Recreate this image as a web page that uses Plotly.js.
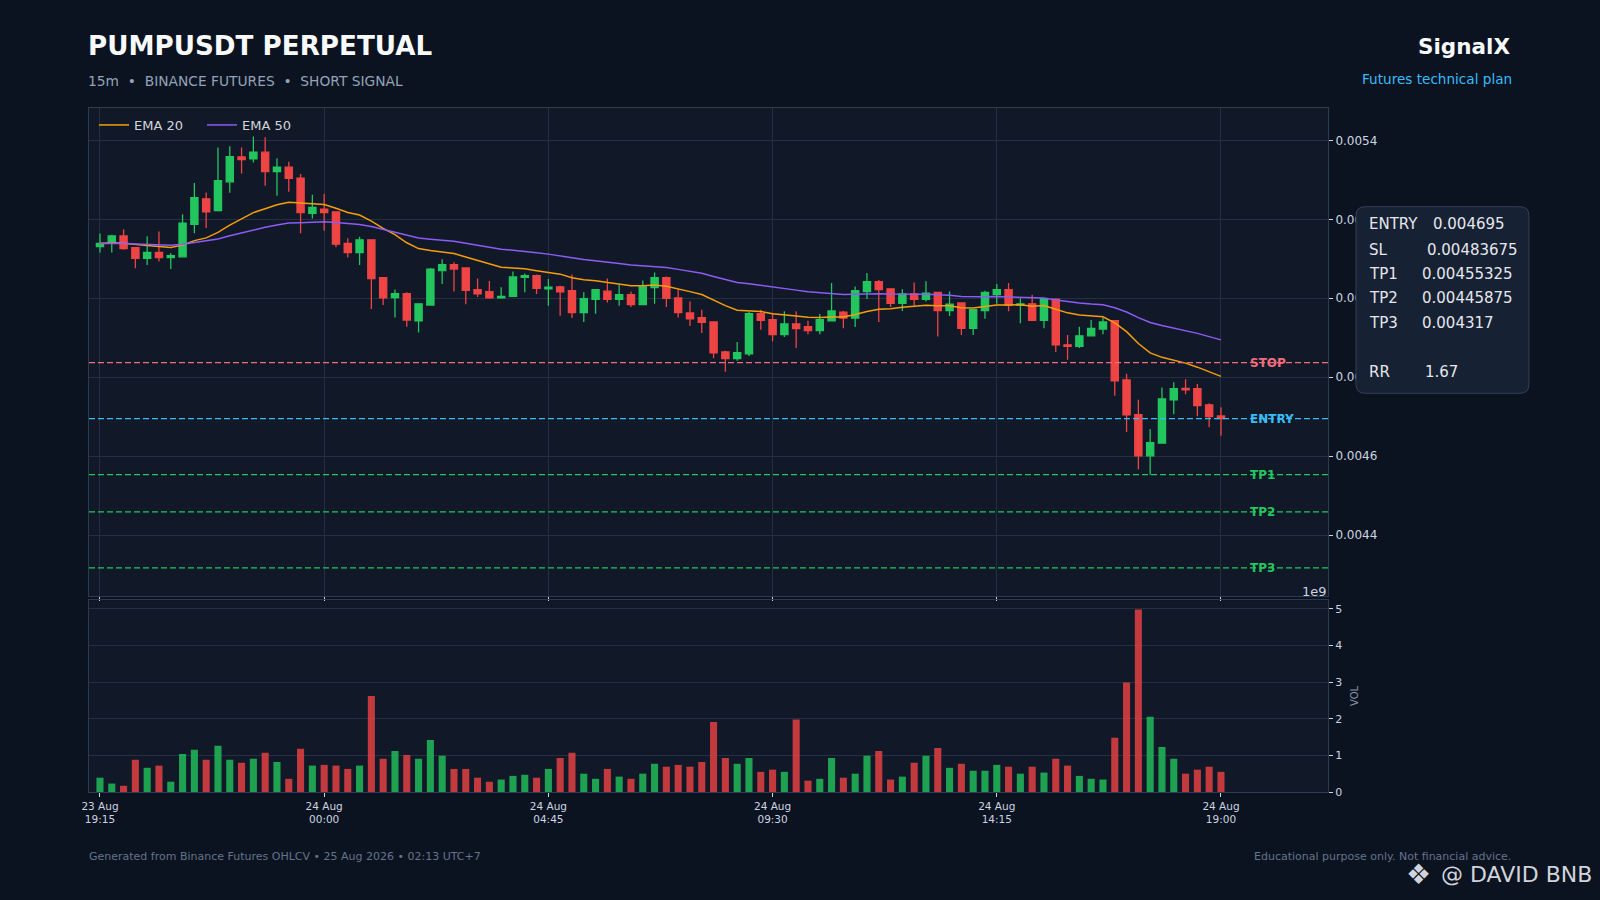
<!DOCTYPE html>
<html><head><meta charset="utf-8">
<script src="https://cdn.plot.ly/plotly-3.0.1.min.js"></script>
<style>html,body{margin:0;padding:0;background:#0b1220;}#chart{width:1600px;height:900px;}</style>
</head><body><div id="chart"></div>
<script>
// ---- data ----
const openP = [0.005131,0.005139,0.005158,0.005128,0.005101,0.005116,0.005103,0.005105,0.005187,0.005252,
0.005222,0.005295,0.005358,0.005353,0.005370,0.005321,0.005332,0.005304,0.005215,0.005226,
0.005219,0.005139,0.005116,0.005148,0.005052,0.005002,0.005012,0.004943,0.004983,0.005070,
0.005085,0.005077,0.005022,0.005017,0.005001,0.005005,0.005053,0.005057,0.005024,0.005029,
0.005019,0.004964,0.004997,0.005018,0.004997,0.005009,0.004984,0.005027,0.005052,0.005001,
0.004963,0.004951,0.004940,0.004864,0.004847,0.004859,0.004961,0.004946,0.004908,0.004935,
0.004928,0.004918,0.004943,0.004965,0.004950,0.005017,0.005042,0.005024,0.004987,0.005011,
0.004997,0.005015,0.004969,0.004988,0.004924,0.004969,0.005009,0.005022,0.004982,0.004986,
0.004944,0.004998,0.004882,0.004878,0.004905,0.004922,0.004943,0.004793,0.004705,0.004601,
0.004633,0.004743,0.004772,0.004771,0.004730,0.004702];
const highP = [0.005164,0.005161,0.005175,0.005128,0.005157,0.005169,0.005115,0.005213,0.005292,0.005268,
0.005382,0.005385,0.005382,0.005410,0.005408,0.005355,0.005346,0.005315,0.005262,0.005264,
0.005219,0.005152,0.005156,0.005148,0.005052,0.005022,0.005015,0.004986,0.005077,0.005099,
0.005091,0.005077,0.005050,0.005044,0.005028,0.005068,0.005063,0.005060,0.005049,0.005032,
0.005060,0.005015,0.005023,0.005050,0.005035,0.005017,0.005045,0.005065,0.005055,0.005022,
0.004992,0.004971,0.004940,0.004867,0.004889,0.004966,0.004971,0.004960,0.004967,0.004967,
0.004943,0.004960,0.005039,0.004968,0.005030,0.005064,0.005046,0.005024,0.005023,0.005040,
0.005043,0.005016,0.005017,0.004988,0.004973,0.005019,0.005036,0.005039,0.005000,0.005009,
0.004999,0.005000,0.004907,0.004928,0.004945,0.004950,0.004943,0.004809,0.004743,0.004669,
0.004774,0.004787,0.004795,0.004783,0.004734,0.004724];
const lowP = [0.005116,0.005116,0.005123,0.005076,0.005084,0.005093,0.005074,0.005103,0.005165,0.005178,
0.005220,0.005267,0.005316,0.005344,0.005285,0.005260,0.005270,0.005165,0.005202,0.005171,
0.005129,0.005103,0.005084,0.004973,0.004983,0.004951,0.004928,0.004913,0.004982,0.005036,
0.005017,0.004985,0.005003,0.004999,0.004999,0.005003,0.005015,0.005011,0.004981,0.004956,
0.004950,0.004940,0.004961,0.004989,0.004981,0.004978,0.004984,0.004986,0.004978,0.004951,
0.004930,0.004912,0.004848,0.004814,0.004842,0.004854,0.004920,0.004891,0.004902,0.004874,
0.004909,0.004909,0.004941,0.004924,0.004927,0.004998,0.004940,0.004978,0.004968,0.004982,
0.004992,0.004903,0.004955,0.004907,0.004907,0.004948,0.004986,0.004967,0.004937,0.004944,
0.004924,0.004864,0.004844,0.004874,0.004905,0.004909,0.004753,0.004661,0.004567,0.004553,
0.004633,0.004706,0.004757,0.004701,0.004673,0.004652];
const closeP = [0.005139,0.005158,0.005126,0.005101,0.005116,0.005103,0.005108,0.005190,0.005255,0.005219,
0.005298,0.005359,0.005351,0.005370,0.005321,0.005332,0.005304,0.005217,0.005230,0.005217,
0.005137,0.005116,0.005148,0.005050,0.005001,0.005012,0.004945,0.004986,0.005074,0.005085,
0.005074,0.005020,0.005011,0.005001,0.005005,0.005054,0.005057,0.005025,0.005028,0.005016,
0.004964,0.004999,0.005022,0.004997,0.005009,0.004984,0.005029,0.005052,0.005000,0.004964,
0.004948,0.004939,0.004862,0.004847,0.004862,0.004961,0.004944,0.004908,0.004935,0.004923,
0.004918,0.004946,0.004968,0.004950,0.005019,0.005042,0.005022,0.004987,0.005011,0.004997,
0.005013,0.004969,0.004985,0.004924,0.004971,0.005015,0.005022,0.004982,0.004986,0.004944,
0.004999,0.004882,0.004878,0.004905,0.004924,0.004940,0.004791,0.004705,0.004601,0.004634,
0.004745,0.004771,0.004768,0.004728,0.004700,0.004695];
const volumeB = [0.39,0.23,0.17,0.88,0.66,0.72,0.28,1.04,1.15,0.88,
1.26,0.88,0.80,0.91,1.07,0.82,0.36,1.18,0.72,0.74,
0.72,0.63,0.72,2.62,0.91,1.12,1.01,0.91,1.42,0.99,
0.63,0.63,0.39,0.28,0.34,0.44,0.47,0.39,0.63,0.93,
1.07,0.50,0.36,0.63,0.42,0.36,0.50,0.77,0.69,0.74,
0.69,0.82,1.91,0.93,0.77,0.93,0.55,0.61,0.55,1.98,
0.31,0.36,0.93,0.39,0.50,0.99,1.12,0.34,0.42,0.80,
0.99,1.20,0.66,0.77,0.58,0.58,0.74,0.69,0.50,0.69,
0.53,0.91,0.72,0.44,0.36,0.34,1.48,2.99,4.98,2.05,
1.23,0.91,0.50,0.61,0.69,0.55]; // in units of 1e9
const tickIndex = [0,19,38,57,76,95];
const tickLabels = ['23 Aug<br>19:15','24 Aug<br>00:00','24 Aug<br>04:45','24 Aug<br>09:30','24 Aug<br>14:15','24 Aug<br>19:00'];
const levelNames = ['STOP','ENTRY','TP1','TP2','TP3'];
const levelPrices = [0.00483675,0.004695,0.00455325,0.00445875,0.004317];
const planLabels = ['ENTRY','SL','TP1','TP2','TP3','RR'];
const planValues = [0.004695,0.00483675,0.00455325,0.00445875,0.004317,1.67];
const emaSpans = [20,50];

// ---- styles / geometry ----
const W=1600,H=900,M={l:89,r:272,t:108,b:108};
const PW=W-M.l-M.r, PH=H-M.t-M.b;
const px = v => (v-M.l)/PW;
const py = v => (H-M.b-v)/PH;
const FONT='DejaVu Sans';
const GREEN='#22c55e', RED='#ef4444', GRID='#243042', SPINE='#2e3a4d', TICK='#cbd5e1';
const levelColors=['#f26d7d','#38bdf8','#22c55e','#22c55e','#22c55e'];
const emaColors=['#f59e0b','#8b5cf6'];

function ema(arr, span){
  const a=2/(span+1); const out=[]; let e=arr[0];
  for(let i=0;i<arr.length;i++){ e = i===0?arr[0]:a*arr[i]+(1-a)*e; out.push(e); }
  return out;
}
const xs = closeP.map((_,i)=>i);

const traces=[];
traces.push({type:'candlestick',x:xs,open:openP,high:highP,low:lowP,close:closeP,xaxis:'x',yaxis:'y',
  increasing:{line:{color:GREEN,width:1.3},fillcolor:GREEN},
  decreasing:{line:{color:RED,width:1.3},fillcolor:RED},
  whiskerwidth:0, showlegend:false, hoverinfo:'skip'});
emaSpans.forEach((s,k)=>{
  traces.push({type:'scatter',mode:'lines',x:xs,y:ema(closeP,s),name:'EMA '+s,xaxis:'x',yaxis:'y',
    line:{color:emaColors[k],width:1.5},hoverinfo:'skip'});
});
traces.push({type:'bar',x:xs,y:volumeB,xaxis:'x2',yaxis:'y2',width:0.6,showlegend:false,
  marker:{color:closeP.map((c,i)=>c>=openP[i]?GREEN:RED),opacity:0.8,line:{width:0}},hoverinfo:'skip'});

const shapes=[];
levelPrices.forEach((p,k)=>{
  shapes.push({type:'line',xref:'x domain',x0:0,x1:1,yref:'y',y0:p,y1:p,layer:'above',
    line:{color:levelColors[k],width:1.3,dash:'6px,3px'}});
});
// info box with rounded corners
(function(){
  const L=1356,T=206.7,R=1529,B=393.3,r=9;
  const X=v=>px(v).toFixed(5), Y=v=>py(v).toFixed(5);
  const path=`M ${X(L+r)} ${Y(T)} L ${X(R-r)} ${Y(T)} Q ${X(R)} ${Y(T)} ${X(R)} ${Y(T+r)} L ${X(R)} ${Y(B-r)} Q ${X(R)} ${Y(B)} ${X(R-r)} ${Y(B)} L ${X(L+r)} ${Y(B)} Q ${X(L)} ${Y(B)} ${X(L)} ${Y(B-r)} L ${X(L)} ${Y(T+r)} Q ${X(L)} ${Y(T)} ${X(L+r)} ${Y(T)} Z`;
  shapes.push({type:'path',xref:'paper',yref:'paper',path:path,fillcolor:'#172134',line:{color:'#334155',width:1},layer:'above'});
})();

const ann=[];
const txt=(x,y,text,size,color,opts={})=>Object.assign({xref:'paper',yref:'paper',x:px(x),y:py(y),text:text,showarrow:false,
  xanchor:'left',yanchor:'middle',font:{family:FONT,size:size,color:color}},opts);
ann.push(txt(86,46,'<b>PUMPUSDT PERPETUAL</b>',26.2,'#f8fafc'));
ann.push(txt(86,81,'15m\u00a0\u00a0•\u00a0\u00a0BINANCE FUTURES\u00a0\u00a0•\u00a0\u00a0SHORT SIGNAL',13.8,'#94a3b8'));
ann.push(txt(1512,47,'<b>SignalX</b>',21.5,'#f8fafc',{xanchor:'right'}));
ann.push(txt(1514,78.5,'Futures technical plan',13.6,'#38bdf8',{xanchor:'right'}));
ann.push(txt(87,856,'Generated from Binance Futures OHLCV • 25 Aug 2026 • 02:13 UTC+7',11,'#64748b'));
ann.push(txt(1513,856,'Educational purpose only. Not financial advice.',11,'#64748b',{xanchor:'right'}));
ann.push(txt(1594,874,'@ DAVID BNB',22,'#d1d5db',{xanchor:'right'}));
ann.push(txt(1433,874,'❖',28,'#d1d5db',{xanchor:'right'}));
ann.push(txt(1329,591,'1e9',13,TICK,{xanchor:'right'}));
ann.push(txt(1354,696,'VOL',10,'#8b95a5',{xanchor:'center',textangle:-90}));
levelNames.forEach((n,k)=>{
  ann.push({xref:'paper',yref:'y',x:px(1248),y:levelPrices[k],text:'<b>'+n+'</b>',showarrow:false,xanchor:'left',yanchor:'middle',
    font:{family:FONT,size:12,color:levelColors[k]}});
});
const planLabelY=[224.3,250,274,298.3,322.7,372.3];
const planValueX=[1432,1425.7,1421,1421,1421,1424];
planLabels.forEach((l,k)=>{
  ann.push(txt(1367,planLabelY[k],l,15,'#e5e7eb'));
  ann.push(txt(planValueX[k]-1,planLabelY[k],String(planValues[k]),15,'#e5e7eb'));
});

const layout={
  width:W,height:H,margin:M,paper_bgcolor:'#0b1220',plot_bgcolor:'#111827',
  font:{family:FONT,color:TICK},showlegend:true,boxgap:0.39,boxgroupgap:0,
  legend:{orientation:'h',x:px(94),y:py(110),xanchor:'left',yanchor:'top',bgcolor:'rgba(0,0,0,0)',
    font:{family:FONT,size:13,color:'#d1d5db'},entrywidth:63,entrywidthmode:'pixels'},
  xaxis:{domain:[0,1],anchor:'y',range:[-0.93,104.07],tickvals:tickIndex,showticklabels:false,ticks:'outside',ticklen:4,tickcolor:TICK,
    showgrid:true,gridcolor:GRID,gridwidth:1,zeroline:false,showline:true,linecolor:SPINE,mirror:true,rangeslider:{visible:false},fixedrange:true},
  yaxis:{domain:[py(596),1],anchor:'x',side:'right',range:[0.0042458,0.005482],dtick:0.0002,tick0:0.0044,ticks:'outside',ticklen:4,tickcolor:TICK,
    tickfont:{size:12,color:TICK},showgrid:true,gridcolor:GRID,zeroline:false,showline:true,linecolor:SPINE,mirror:true},
  xaxis2:{domain:[0,1],anchor:'y2',matches:'x',tickvals:tickIndex,ticktext:tickLabels,ticks:'outside',ticklen:4,tickcolor:TICK,
    tickfont:{size:10.5,color:TICK},showgrid:false,zeroline:false,showline:true,linecolor:SPINE,mirror:true,rangeslider:{visible:false}},
  yaxis2:{domain:[0,py(600.3)],anchor:'x2',side:'right',range:[0,5.23],dtick:1,ticks:'outside',ticklen:4,tickcolor:TICK,
    tickfont:{size:11,color:TICK},showgrid:true,gridcolor:GRID,zeroline:false,showline:true,linecolor:SPINE,mirror:true},
  shapes:shapes,annotations:ann
};
Plotly.newPlot('chart',traces,layout,{displayModeBar:false,staticPlot:true});
</script></body></html>
